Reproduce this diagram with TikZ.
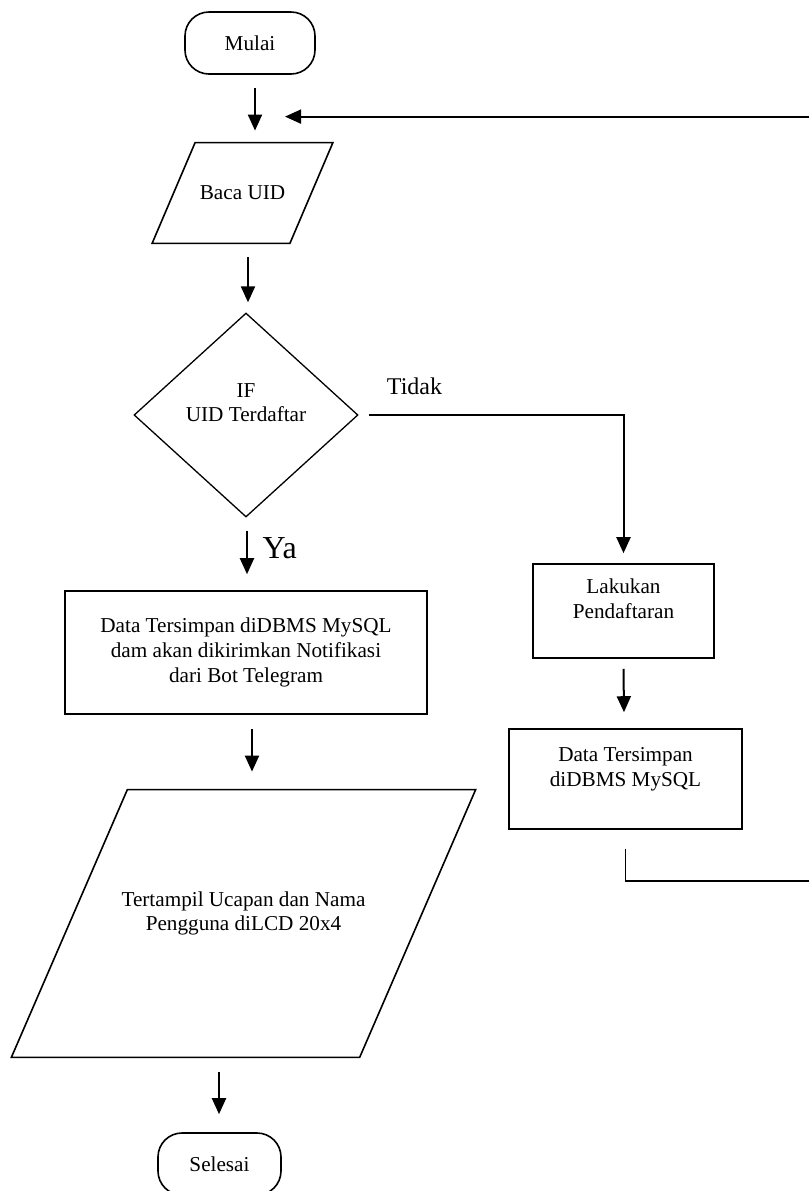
\documentclass[tikz,border=0pt]{standalone}
\usepackage{fontspec}
\setmainfont{Liberation Serif}
\usetikzlibrary{shapes.geometric,arrows.meta}

\begin{document}
\begin{tikzpicture}[x=0.5pt,y=-0.5pt,
		teks/.style={font=\fontsize{10.6}{12.3}\selectfont, align=center},
		garis/.style={line width=0.8pt},
		terminal/.style={teks, draw, garis, rectangle, rounded corners=12pt, minimum height=31pt, inner sep=0pt},
		proses/.style={teks, draw, garis, rectangle, inner sep=0pt},
		io/.style={teks, rectangle, inner sep=0pt},
		keputusan/.style={teks, draw, line width=0.65pt, diamond, inner sep=0pt},
		arah/.style={line width=1pt, -{Triangle[length=8pt,width=7pt]}},
	]
		\useasboundingbox (0,0) rectangle (809,1191);
		
		\node[terminal, minimum width=65pt] (mulai) at (250,43) {Mulai};
		\node[io, minimum width=68.5pt, minimum height=50pt] (baca) at (242.5,193) {Baca UID};
		\node[keputusan, minimum width=112pt, minimum height=102pt] (cek) at (246,415) {IF\\UID Terdaftar\\\mbox{}};
		\node[proses, minimum width=181pt, minimum height=61.5pt] (simpan) at (246,652.5) {Data Tersimpan diDBMS MySQL\\dam akan dikirimkan Notifikasi\\dari Bot Telegram};
		\node[io, minimum width=173.75pt, minimum height=133.5pt] (tampil) at (243.5,923.5) {Tertampil Ucapan dan Nama\\Pengguna diLCD 20x4\\\mbox{}};
		\node[terminal, minimum width=61.5pt] (selesai) at (219.5,1164) {Selesai};
		\node[proses, minimum width=90.5pt, minimum height=47pt] (daftar) at (623.5,611) {Lakukan\\Pendaftaran\\\mbox{}};
		\node[proses, minimum width=116.5pt, minimum height=50pt] (simpandb) at (625.5,779) {Data Tersimpan\\diDBMS MySQL\\\mbox{}};
		
		% jajaran genjang input/output
		\foreach \n/\s in {baca/10.75pt, tampil/29pt}
			\draw[garis] ([xshift=-\s]\n.south west) -- ([xshift=\s]\n.north west) -- ([xshift=\s]\n.north east) -- ([xshift=-\s]\n.south east) -- cycle;
		
		\draw[arah] ([xshift=2.5pt,yshift=-6.5pt]mulai.south) -- ([xshift=6.25pt,yshift=6pt]baca.north);
		\draw[arah] ([xshift=2.75pt,yshift=-7pt]baca.south) -- ([xshift=1pt,yshift=5pt]cek.north);
		\draw[arah] ([xshift=0.5pt,yshift=-6.5pt]cek.south) -- node[pos=0.4, right=4pt, font=\fontsize{16}{19}\selectfont] {Ya} ([xshift=0.5pt,yshift=8pt]simpan.north);
		\draw[arah] ([xshift=5pt]cek.east) -| node[pos=0.09, above=6.5pt, font=\fontsize{12}{14}\selectfont] {Tidak} ([yshift=5pt]daftar.north);
		\draw[arah] ([xshift=3pt,yshift=-7pt]simpan.south) -- ([xshift=4.25pt,yshift=9pt]tampil.north);
		\draw[arah] ([xshift=-12.25pt,yshift=-7.5pt]tampil.south) -- ([xshift=-0.25pt,yshift=9pt]selesai.north);
		\draw[arah] ([yshift=-5pt]daftar.south) -- ([xshift=-0.75pt,yshift=8pt]simpandb.north);
		% kembali ke baca UID
		\draw[arah, line width=0.9pt] ([yshift=-9.5pt]simpandb.south) -- ++(0,32) -- ++(205,0) |- ([xshift=21.25pt,yshift=13pt]baca.north);
\end{tikzpicture}
\end{document}
